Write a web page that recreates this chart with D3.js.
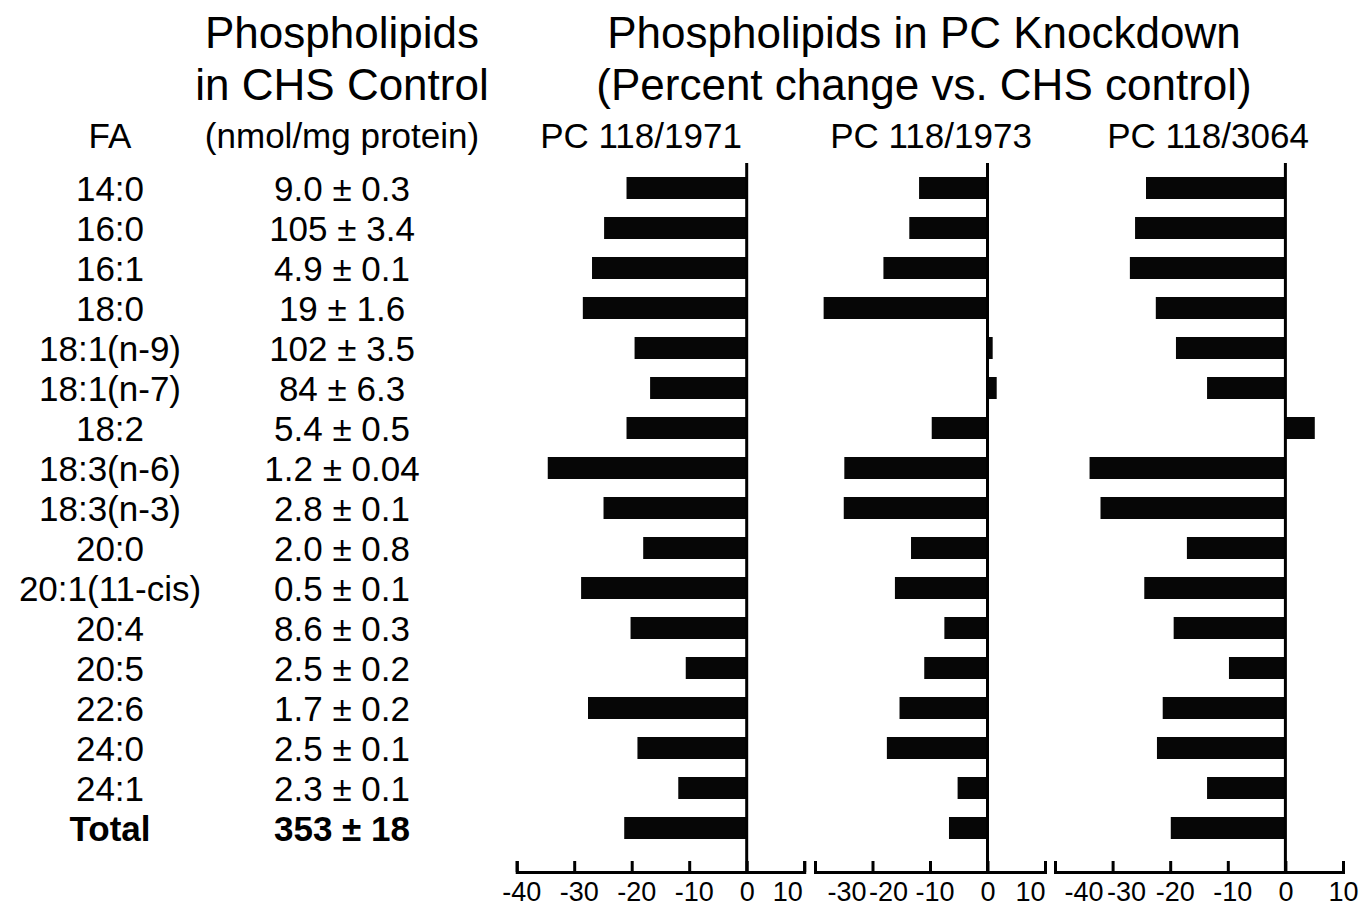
<!DOCTYPE html>
<html>
<head>
<meta charset="UTF-8">
<title>phospholipids PC knockdown</title>
<script src="https://cdn.jsdelivr.net/npm/d3@7"></script>
<style>
  body { margin: 0; background: #fff; }
  text { font-family: "Liberation Sans", Arial, sans-serif; fill: #000; }
</style>
</head>
<body>
<div id="chart"></div>
<script>
// fatty acids (rows)
const fattyAcids = ["14:0", "16:0", "16:1", "18:0", "18:1(n-9)", "18:1(n-7)", "18:2",
  "18:3(n-6)", "18:3(n-3)", "20:0", "20:1(11-cis)", "20:4", "20:5", "22:6", "24:0", "24:1", "Total"];

// CHS control, nmol/mg protein (shown as text)
const controlValues = ["9.0 ± 0.3", "105 ± 3.4", "4.9 ± 0.1", "19 ± 1.6", "102 ± 3.5", "84 ± 6.3",
  "5.4 ± 0.5", "1.2 ± 0.04", "2.8 ± 0.1", "2.0 ± 0.8", "0.5 ± 0.1", "8.6 ± 0.3", "2.5 ± 0.2",
  "1.7 ± 0.2", "2.5 ± 0.1", "2.3 ± 0.1", "353 ± 18"];

// percent change vs CHS control
const pc1971 = [-20.9, -24.8, -26.9, -28.5, -19.5, -16.8, -20.9, -34.6, -24.9, -18.0, -28.8,
  -20.2, -10.6, -27.6, -19.0, -11.9, -21.3];
const pc1973 = [-11.9, -13.6, -18.1, -28.5, 0.9, 1.6, -9.7, -24.9, -25.0, -13.3, -16.1,
  -7.5, -11.0, -15.3, -17.5, -5.2, -6.7];
const pc3064 = [-24.2, -26.1, -27.0, -22.5, -19.0, -13.6, 5.1, -34.0, -32.1, -17.1, -24.5,
  -19.4, -9.8, -21.3, -22.3, -13.6, -19.9];

const panelNames = ["PC 118/1971", "PC 118/1973", "PC 118/3064"];
const panelTicks = [[-40, -30, -20, -10, 0, 10], [-30, -20, -10, 0, 10], [-40, -30, -20, -10, 0, 10]];

const width = 1372, height = 907;
const axisY = 872;

const svg = d3.select("#chart").append("svg")
  .attr("width", width)
  .attr("height", height);

const y = d3.scaleBand()
  .domain(fattyAcids)
  .range([168, 848])
  .paddingInner(0.45)
  .paddingOuter(0.225);

// headers
svg.append("text").attr("x", 342).attr("y", 48).attr("text-anchor", "middle")
  .attr("font-size", 44).text("Phospholipids");
svg.append("text").attr("x", 342).attr("y", 100).attr("text-anchor", "middle")
  .attr("font-size", 44).text("in CHS Control");
svg.append("text").attr("x", 342).attr("y", 148).attr("text-anchor", "middle")
  .attr("font-size", 35).text("(nmol/mg protein)");
svg.append("text").attr("x", 110).attr("y", 148).attr("text-anchor", "middle")
  .attr("font-size", 35).text("FA");
svg.append("text").attr("x", 924).attr("y", 48).attr("text-anchor", "middle")
  .attr("font-size", 44).text("Phospholipids in PC Knockdown");
svg.append("text").attr("x", 924).attr("y", 100).attr("text-anchor", "middle")
  .attr("font-size", 44).text("(Percent change vs. CHS control)");

// row labels + control values
const rows = svg.append("g");
rows.selectAll(".fa")
  .data(fattyAcids)
  .join("text")
  .attr("x", 110)
  .attr("y", d => y(d) + y.bandwidth() / 2)
  .attr("dy", "0.36em")
  .attr("text-anchor", "middle")
  .attr("font-size", 35)
  .attr("font-weight", d => d == "Total" ? "bold" : null)
  .text(d => d);

rows.selectAll(".val")
  .data(controlValues)
  .join("text")
  .attr("x", 342)
  .attr("y", (d, i) => y(fattyAcids[i]) + y.bandwidth() / 2)
  .attr("dy", "0.36em")
  .attr("text-anchor", "middle")
  .attr("font-size", 35)
  .attr("font-weight", (d, i) => fattyAcids[i] == "Total" ? "bold" : null)
  .text(d => d);

// panel layout
const panels = [
  { name: panelNames[0], values: pc1971, ticks: panelTicks[0], range: [516.7, 804.2], titleX: 641,
    nudge: { "10": -17 } },
  { name: panelNames[1], values: pc1973, ticks: panelTicks[1], range: [815, 1045], titleX: 931,
    nudge: { "-30": 27, "-20": 11, "10": -15 } },
  { name: panelNames[2], values: pc3064, ticks: panelTicks[2], range: [1055, 1343], titleX: 1208,
    nudge: { "-40": 24, "-30": 9 } }
];

panels.forEach(p => {
  const x = d3.scaleLinear()
    .domain([p.ticks[0], 10])
    .range(p.range);

  const g = svg.append("g");

  g.append("text")
    .attr("x", p.titleX)
    .attr("y", 148)
    .attr("text-anchor", "middle")
    .attr("font-size", 35)
    .text(p.name);

  g.selectAll("rect")
    .data(p.values)
    .join("rect")
    .attr("x", d => x(Math.min(0, d)))
    .attr("y", (d, i) => y(fattyAcids[i]))
    .attr("width", d => Math.abs(x(d) - x(0)))
    .attr("height", y.bandwidth())
    .attr("fill", "#060606");

  g.append("line")
    .attr("x1", x(0)).attr("x2", x(0))
    .attr("y1", 163).attr("y2", axisY)
    .attr("stroke", "#000")
    .attr("stroke-width", 3);

  const ax = g.append("g")
    .attr("transform", "translate(0," + axisY + ")")
    .call(d3.axisBottom(x)
      .tickValues(p.ticks)
      .tickFormat(d => String(d))
      .tickSize(-11)
      .tickPadding(10));

  ax.select(".domain").attr("stroke-width", 3);
  ax.selectAll(".tick line").attr("stroke-width", 3);
  ax.selectAll(".tick text")
    .attr("font-size", 27)
    .attr("font-family", "Liberation Sans, Arial, sans-serif")
    .attr("fill", "#000")
    .attr("dx", d => (d < 0 ? 4.5 : 0) + (p.nudge[String(d)] || 0));
});
</script>
</body>
</html>
